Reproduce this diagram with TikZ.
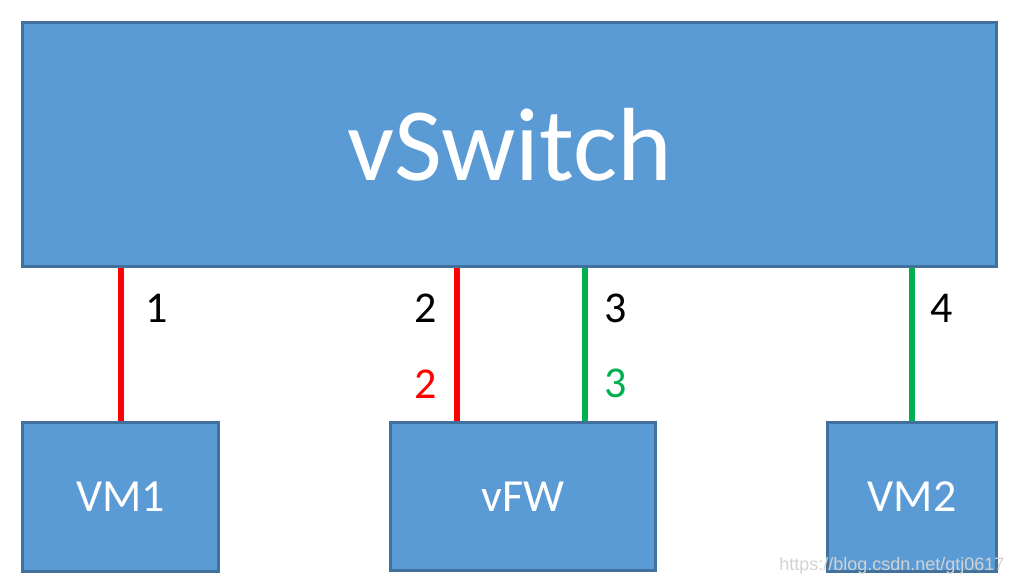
\documentclass[tikz,border=0pt]{standalone}
\usepackage{fontspec}
\setmainfont{Carlito}
\newfontfamily\markfont{Liberation Sans}
\definecolor{boxfill}{HTML}{5B9BD5}
\definecolor{boxline}{HTML}{41719C}
\definecolor{linkgreen}{HTML}{00B050}
\begin{document}
\begin{tikzpicture}[x=1pt,y=-1pt,
  box/.style={draw=boxline,line width=3pt,fill=boxfill,text=white,inner sep=0pt,
    font=\fontsize{46}{46}\selectfont},
  redlink/.style={draw=red,line width=6pt},
  greenlink/.style={draw=linkgreen,line width=6pt},
  num/.style={font=\fontsize{44}{44}\selectfont}]
\useasboundingbox (0,0) rectangle (1012,585);
\node[box,minimum width=974,minimum height=244,font=\fontsize{104}{104}\selectfont] (sw) at (509.5,145) {vSwitch};
\node[box,minimum width=196,minimum height=149] (vm1) at (120.5,497) {VM1};
\node[box,minimum width=265,minimum height=148] (fw) at (523,496.5) {vFW};
\node[box,minimum width=169,minimum height=149] (vm2) at (912,497) {VM2};
\draw[redlink] (vm1.north) -- (vm1.north |- sw.south);
\draw[redlink] ([xshift=68]fw.north west) -- ([xshift=68]fw.north west |- sw.south);
\draw[greenlink] ([xshift=196]fw.north west) -- ([xshift=196]fw.north west |- sw.south);
\draw[greenlink] (vm2.north) -- (vm2.north |- sw.south);
\node[num] (n1) at (157,308) {1};
\node[num] (n2) at (426,308) {2};
\node[num,text=red] (n2b) at (426,384) {2};
\node[num] (n3) at (616,308) {3};
\node[num,text=linkgreen] (n3b) at (616,383) {3};
\node[num] (n4) at (942,308) {4};
\node[text=gray!35,font=\markfont\fontsize{18}{18}\selectfont,anchor=east] (wm) at (1008,566) {https://blog.csdn.net/gtj0617};
\end{tikzpicture}
\end{document}
